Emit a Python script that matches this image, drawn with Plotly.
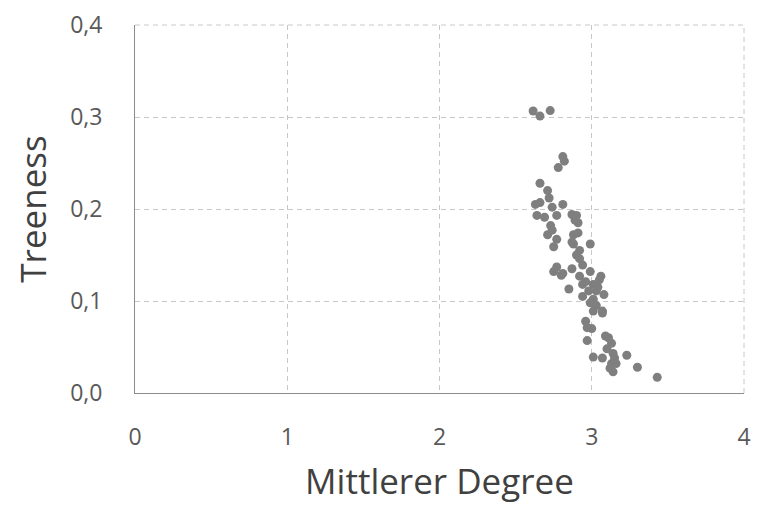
import plotly.graph_objects as go

mean_degree = [
    2.615, 2.66, 2.727,
    2.81, 2.82, 2.78,
    2.66, 2.71, 2.72, 2.63, 2.66, 2.74, 2.81,
    2.64, 2.69, 2.77, 2.87, 2.90, 2.91, 2.89,
    2.73, 2.74, 2.71, 2.77, 2.88, 2.91, 2.87, 2.75, 2.99, 2.92,
    2.88, 2.90, 2.92, 2.77, 2.75, 2.87, 2.94, 2.81, 2.99, 2.92, 3.06, 2.80,
    2.85, 2.94, 3.01, 2.98, 3.03, 3.08, 2.94, 3.01, 3.03, 3.07, 3.01, 2.96,
    3.07, 2.97, 3.00, 2.97, 3.09, 3.11, 3.13, 3.01, 3.07, 3.14, 3.15,
    3.23, 3.13, 3.16, 3.14, 3.30, 3.43, 2.96, 3.05, 3.10, 3.12, 2.99, 3.04,
]
treeness = [
    0.3065, 0.301, 0.307,
    0.257, 0.252, 0.245,
    0.228, 0.220, 0.212, 0.205, 0.207, 0.202, 0.205,
    0.193, 0.191, 0.193, 0.194, 0.193, 0.185, 0.188,
    0.182, 0.177, 0.172, 0.167, 0.172, 0.174, 0.164, 0.159, 0.162, 0.155,
    0.162, 0.150, 0.146, 0.137, 0.132, 0.135, 0.139, 0.130, 0.132, 0.127, 0.127, 0.128,
    0.113, 0.118, 0.118, 0.111, 0.111, 0.107, 0.105, 0.102, 0.095, 0.089, 0.089, 0.078,
    0.087, 0.057, 0.070, 0.071, 0.062, 0.060, 0.054, 0.039, 0.038, 0.043, 0.038,
    0.041, 0.032, 0.032, 0.023, 0.028, 0.017, 0.121, 0.123, 0.048, 0.027, 0.098, 0.115,
]

x_ticks = [0, 1, 2, 3, 4]
y_ticks = [0.0, 0.1, 0.2, 0.3, 0.4]

GRID = "#c8c8c8"
DASH = "5px,4px"

fig = go.Figure(
    go.Scatter(
        x=mean_degree,
        y=treeness,
        mode="markers",
        marker=dict(color="#7f7f7f", size=9, line=dict(width=0)),
        showlegend=False,
    )
)

# dashed frame on top and right edges (grid lines at 0,4 and 4)
fig.add_shape(type="line", xref="paper", yref="paper", x0=0, x1=1, y0=1, y1=1,
              line=dict(color=GRID, width=1, dash=DASH), layer="below")
fig.add_shape(type="line", xref="paper", yref="paper", x0=1, x1=1, y0=0, y1=1,
              line=dict(color=GRID, width=1, dash=DASH), layer="below")

font_family = "Open Sans, DejaVu Sans, sans-serif"
fig.update_layout(
    width=754,
    height=500,
    margin=dict(l=127, r=18, t=17, b=115, autoexpand=False),
    paper_bgcolor="white",
    plot_bgcolor="white",
    separators=",.",
    font=dict(family=font_family, color="#595959"),
    xaxis=dict(
        range=[0, 4],
        tickvals=x_ticks,
        tickformat="d",
        showgrid=True,
        gridcolor=GRID,
        griddash=DASH,
        gridwidth=1,
        zeroline=False,
        showline=True,
        linecolor="#8c8c8c",
        linewidth=1,
        ticks="",
        ticklabelstandoff=23,
        ticklabeloverflow="allow",
        automargin=False,
        tickfont=dict(size=23, color="#595959"),
        title=dict(text="Mittlerer Degree", font=dict(size=35, color="#404040"), standoff=18),
        fixedrange=True,
    ),
    yaxis=dict(
        range=[0, 0.4],
        tickvals=y_ticks,
        tickformat=".1f",
        showgrid=True,
        gridcolor=GRID,
        griddash=DASH,
        gridwidth=1,
        zeroline=False,
        showline=True,
        linecolor="#8c8c8c",
        linewidth=1,
        ticks="",
        ticklabelstandoff=27,
        ticklabeloverflow="allow",
        automargin=False,
        tickfont=dict(size=23, color="#595959"),
        title=dict(text="Treeness", font=dict(size=35, color="#404040"), standoff=12),
        fixedrange=True,
    ),
)

fig.write_html("out.html")
